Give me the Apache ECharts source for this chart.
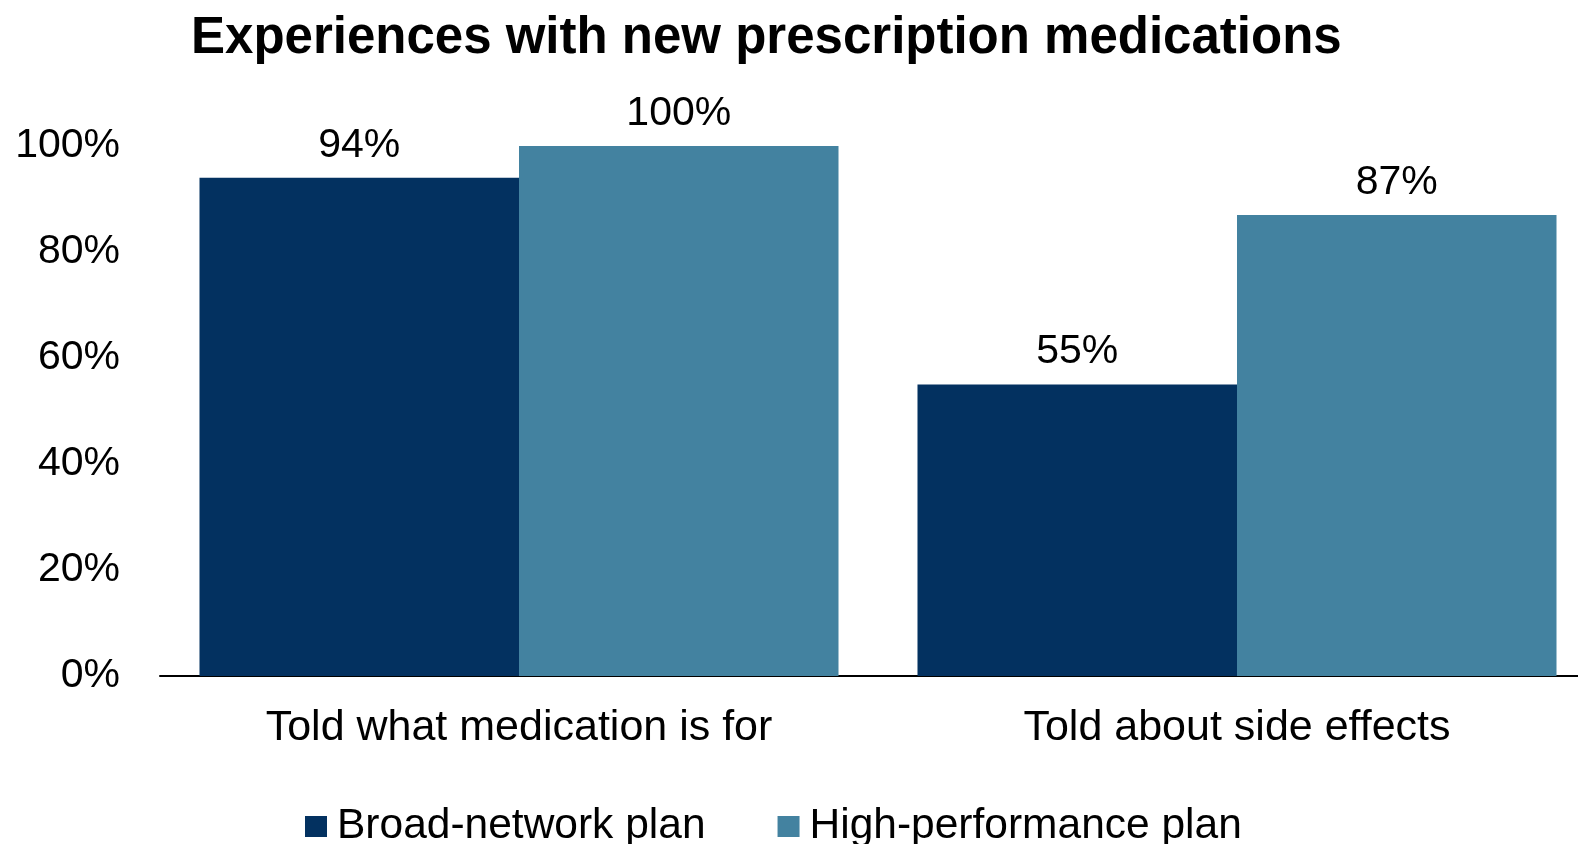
<!DOCTYPE html>
<html>
<head>
<meta charset="utf-8">
<script src="https://cdn.jsdelivr.net/npm/echarts@6/dist/echarts.min.js"></script>
<style>html,body{margin:0;padding:0;background:#fff;overflow:hidden;width:1578px;height:844px;}#c{width:1596px;height:844px;}</style>
</head>
<body>
<div id="c"></div>
<script>
const categories = ['Told what medication is for', 'Told about side effects'];
const broadNetwork = [94, 55];
const highPerformance = [100, 87];
const seriesNames = ['Broad-network plan', 'High-performance plan'];
const yTicks = [0, 20, 40, 60, 80, 100];

const font = '"Liberation Sans", Arial, sans-serif';
const chart = echarts.init(document.getElementById('c'), null, {renderer: 'canvas'});
chart.setOption({
  backgroundColor: '#ffffff',
  animation: false,
  title: {
    text: 'Experiences with new prescription medications',
    left: 191, top: 13, padding: 0,
    textStyle: {fontFamily: font, fontWeight: 'bold', fontSize: 51, color: '#000'}
  },
  legend: {
    data: seriesNames,
    left: 305, top: 805, padding: 0,
    itemWidth: 22, itemHeight: 21, itemGap: 72,
    icon: 'rect',
    textStyle: {fontFamily: font, fontSize: 42.5, color: '#000', padding: [0, 0, 0, 5]}
  },
  grid: {left: 160, top: 146, right: 0, bottom: 168, containLabel: false},
  xAxis: {
    type: 'category', data: categories,
    axisLine: {lineStyle: {color: '#000', width: 2}},
    axisTick: {show: false},
    axisLabel: {fontFamily: font, fontSize: 43, color: '#000', margin: 31}
  },
  yAxis: {
    type: 'value', min: yTicks[0], max: yTicks[yTicks.length - 1], interval: 20,
    axisLine: {show: false}, axisTick: {show: false}, splitLine: {show: false},
    axisLabel: {fontFamily: font, fontSize: 41, color: '#000', margin: 40, formatter: v => v + '%'}
  },
  series: [
    {
      name: seriesNames[0], type: 'bar', data: broadNetwork,
      barGap: '0%', barCategoryGap: '11%',
      itemStyle: {color: '#033160'},
      label: {show: true, position: 'top', distance: 12, fontFamily: font, fontSize: 41, color: '#000', formatter: p => p.value + '%'}
    },
    {
      name: seriesNames[1], type: 'bar', data: highPerformance,
      barGap: '0%', barCategoryGap: '11%',
      itemStyle: {color: '#4382A0'},
      label: {show: true, position: 'top', distance: 12, fontFamily: font, fontSize: 41, color: '#000', formatter: p => p.value + '%'}
    }
  ]
});
</script>
</body>
</html>
